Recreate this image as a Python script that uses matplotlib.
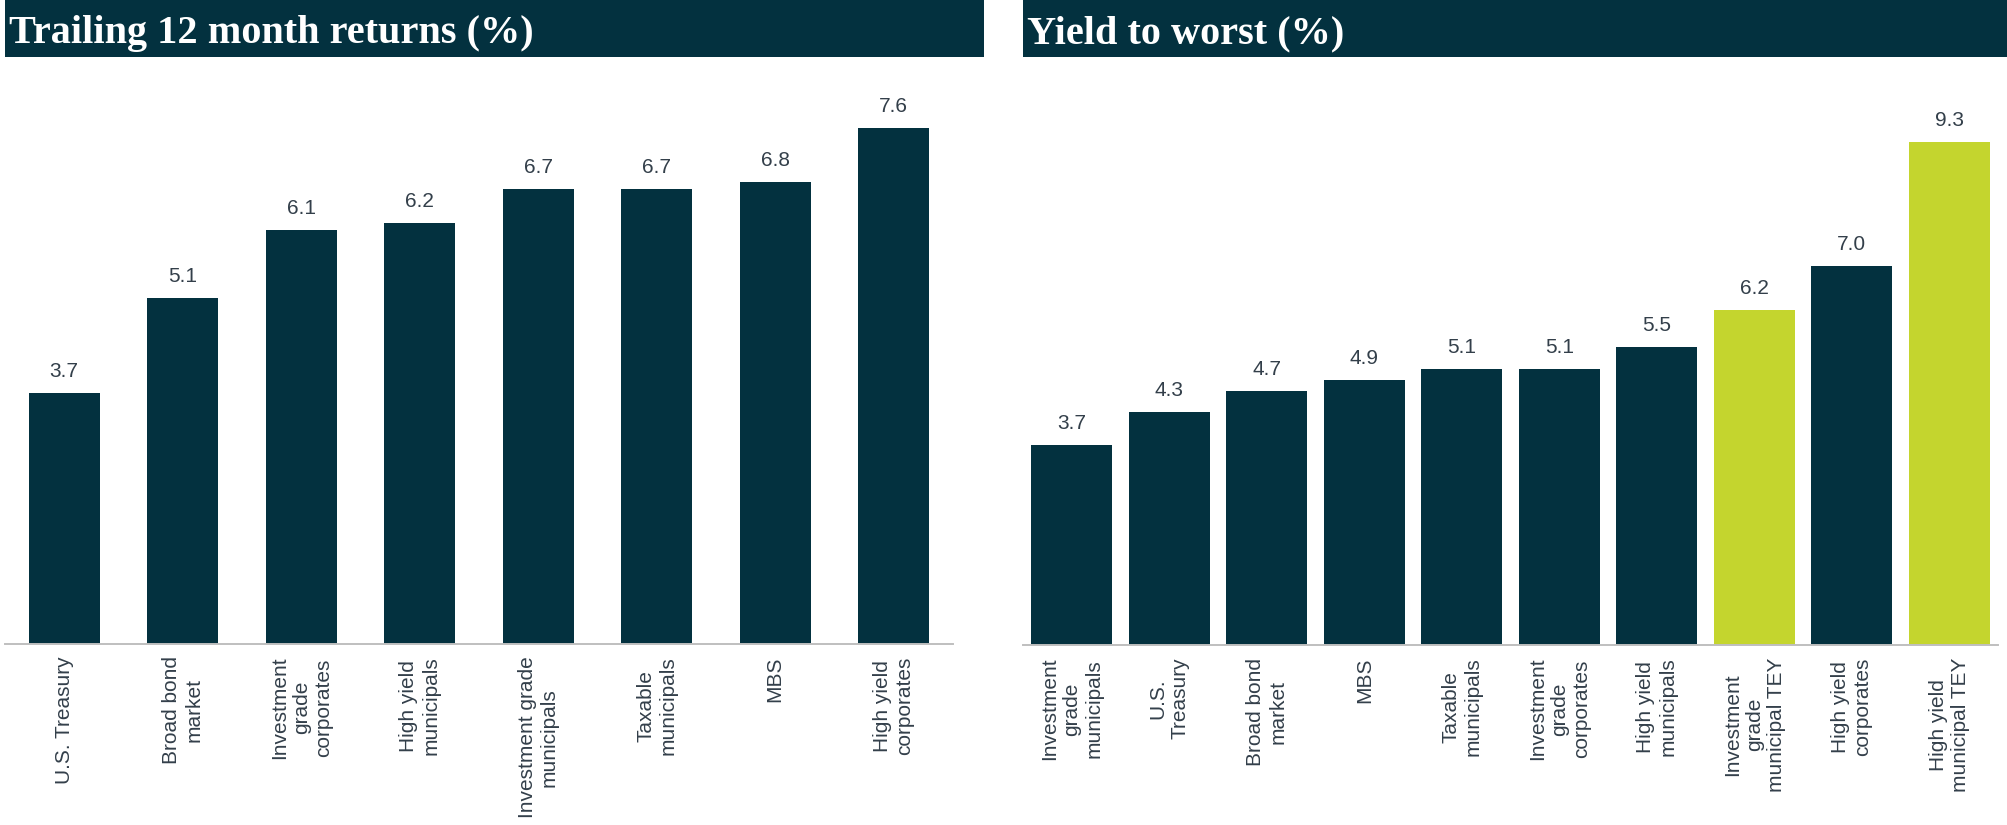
import matplotlib
matplotlib.use('Agg')
import matplotlib.pyplot as plt
from matplotlib.patches import Rectangle

# data
returns_labels = ['U.S. Treasury', 'Broad bond\nmarket', 'Investment\ngrade\ncorporates',
                  'High yield\nmunicipals', 'Investment grade\nmunicipals', 'Taxable\nmunicipals',
                  'MBS', 'High yield\ncorporates']
returns_values = [3.7, 5.1, 6.1, 6.2, 6.7, 6.7, 6.8, 7.6]

ytw_labels = ['Investment\ngrade\nmunicipals', 'U.S.\nTreasury', 'Broad bond\nmarket', 'MBS',
              'Taxable\nmunicipals', 'Investment\ngrade\ncorporates', 'High yield\nmunicipals',
              'Investment\ngrade\nmunicipal TEY', 'High yield\ncorporates', 'High yield\nmunicipal TEY']
ytw_values = [3.7, 4.3, 4.7, 4.9, 5.1, 5.1, 5.5, 6.2, 7.0, 9.3]

DARK = '#03313f'
GREEN = '#c4d52e'
TEXT = '#333f4a'
AXIS = '#bfbfbf'

plt.rcParams['font.family'] = ['Liberation Sans', 'DejaVu Sans']

W, H = 2007, 825
fig = plt.figure(figsize=(W / 100, H / 100), dpi=100)


def fx(px):
    return px / W


def fy(py):
    return 1 - py / H


def title_bar(x0, x1, text):
    fig.add_artist(Rectangle((fx(x0), fy(57)), fx(x1 - x0), 57 / H,
                             transform=fig.transFigure, color=DARK, lw=0))
    fig.text(fx(x0 + 4), fy(43), text, color='white', fontsize=29, fontweight='bold',
             family='Liberation Serif', va='baseline', ha='left')


def bar_panel(rect, labels, values, colors, width, ymax):
    ax = fig.add_axes(rect)
    x = range(len(values))
    bars = ax.bar(x, values, width=width, color=colors, edgecolor='none')
    for b, v in zip(bars, values):
        ax.annotate(f'{v:.1f}', (b.get_x() + b.get_width() / 2, v), xytext=(0, 11.5),
                    textcoords='offset points', ha='center', va='baseline',
                    fontsize=15, color=TEXT)
    ax.set_xlim(-0.5, len(values) - 0.5)
    ax.set_ylim(0, ymax)
    ax.set_xticks(list(x))
    ax.set_xticklabels(labels, rotation=90, fontsize=15, color=TEXT, linespacing=1.2)
    ax.tick_params(axis='x', length=0, pad=9)
    ax.set_yticks([])
    for s in ['top', 'left', 'right']:
        ax.spines[s].set_visible(False)
    ax.spines['bottom'].set_color(AXIS)
    ax.spines['bottom'].set_linewidth(1.4)
    return ax


# left panel: axis line 5..953 px, baseline at 644 px, 67.9 px per unit
top = 70
bar_panel([fx(5), fy(644), fx(948), (644 - top) / H], returns_labels, returns_values,
          DARK, 0.6, (644 - top) / 67.9)

# right panel: axis line 1023..1998 px, baseline at 645 px, 54.1 px per unit
ytw_colors = [GREEN if 'TEY' in lab else DARK for lab in ytw_labels]
bar_panel([fx(1023), fy(645), fx(975), (645 - top) / H], ytw_labels, ytw_values,
          ytw_colors, 0.83, (645 - top) / 54.1)

title_bar(5, 984, 'Trailing 12 month returns (%)')
title_bar(1023, 2007, 'Yield to worst (%)')

plt.savefig('out.png', dpi=100)
